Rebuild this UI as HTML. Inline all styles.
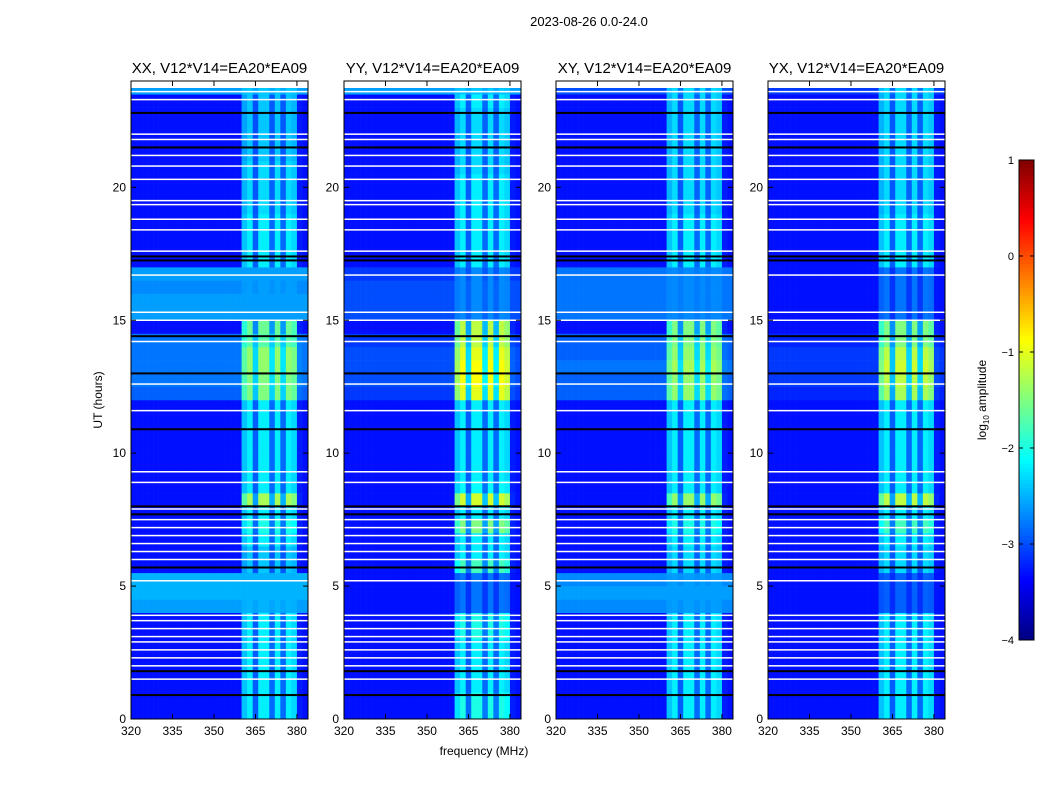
<!DOCTYPE html>
<html><head><meta charset="utf-8">
<style>
body{margin:0;background:#fff;font-family:"Liberation Sans",sans-serif;}
svg text{font-family:"Liberation Sans",sans-serif;}
</style></head>
<body>
<svg id="fig" width="1050" height="800" xmlns="http://www.w3.org/2000/svg">
<rect width="1050" height="800" fill="#fff"/>
<text x="589" y="26" font-size="13" text-anchor="middle">2023-08-26 0.0-24.0</text>
<text x="484" y="755" font-size="12" text-anchor="middle">frequency (MHz)</text>
<text transform="translate(102,400) rotate(-90)" font-size="12" text-anchor="middle">UT (hours)</text>
<g id="panels"></g>
<g id="cbar"></g>
</svg>
<script>
// ---- data ----
const panelTitles = ["XX, V12*V14=EA20*EA09","YY, V12*V14=EA20*EA09","XY, V12*V14=EA20*EA09","YX, V12*V14=EA20*EA09"];
const xTicks = [320,335,350,365,380];
const yTicks = [0,5,10,15,20];
const cbTicks = [1,0,-1,-2,-3,-4];
// column weight of band per 2 MHz channel bin (320..384)
const colWeight = [0,0,0,0,0,0,0,0,0,0,0,0,0,0,0,0,0,0,0,0,0.8,1,0.35,1,1,0.4,1,0.4,1,0.9,0.05,0];
// background level per 0.5h bin (48 bins) per panel
const bgXX = [-3.3,-3.3,-3.3,-3.3,-3.3,-3.3,-3.3,-3.3,-2.6,-2.5,-2.5,-3.3,-3.3,-3.3,-3.3,-3.3,-3.3,-3.3,-3.3,-3.3,-3.3,-3.3,-3.3,-3.3,-2.9,-2.8,-2.8,-2.8,-2.8,-3.3,-2.6,-2.6,-2.7,-2.6,-3.3,-3.3,-3.3,-3.3,-3.3,-3.3,-3.3,-3.3,-3.3,-3.3,-3.3,-3.3,-3.3,-2.6];
const bandXX = [-2.2,-2.2,-2.2,-2.2,-2.2,-2.2,-2.2,-2.2,-2.5,-2.5,-2.5,-2.4,-2.4,-2.2,-2,-2.2,-1.3,-2.2,-2.2,-2.2,-2.2,-2.2,-2.2,-2.2,-1.5,-1.5,-1.4,-1.4,-1.7,-1.6,-2.6,-2.6,-2.6,-2.6,-2.2,-2.2,-2.2,-2.2,-2.3,-2.3,-2.3,-2.3,-2.4,-2.4,-2.4,-2.4,-2.4,-2.4];
const bgYY = [-3.3,-3.3,-3.3,-3.3,-3.3,-3.3,-3.3,-3.3,-3.3,-3.3,-3.3,-3.3,-3.3,-3.3,-3.3,-3.3,-3.3,-3.3,-3.3,-3.3,-3.3,-3.3,-3.3,-3.3,-3.1,-3,-3,-3,-3.1,-3.3,-3,-3,-3,-3.1,-3.3,-3.3,-3.3,-3.3,-3.3,-3.3,-3.3,-3.3,-3.3,-3.3,-3.3,-3.3,-3.3,-2.6];
const bandYY = [-2,-2,-2.2,-2.2,-2.2,-2.2,-2,-2,-2.8,-2.8,-2.8,-1.8,-2.2,-2.2,-1.5,-2.2,-1.1,-2.1,-2.2,-2.2,-2.2,-2.2,-2.2,-2.2,-1,-0.9,-0.9,-1,-1.2,-1.2,-2.7,-2.7,-2.7,-2.7,-2.2,-2.2,-2.2,-2.2,-2.2,-2.2,-2.2,-2.3,-2.3,-2.3,-2.3,-2.3,-2.2,-2.4];
const bgXY = [-3.3,-3.3,-3.3,-3.3,-3.3,-3.3,-3.3,-3.3,-2.7,-2.6,-2.7,-3.3,-3.3,-3.3,-3.3,-3.3,-3.3,-3.3,-3.3,-3.3,-3.3,-3.3,-3.3,-3.3,-2.9,-2.9,-2.8,-2.9,-2.9,-3.3,-2.8,-2.8,-2.8,-2.8,-3.3,-3.3,-3.3,-3.3,-3.3,-3.3,-3.3,-3.3,-3.3,-3.3,-3.3,-3.3,-3.3,-3];
const bandXY = [-2.2,-2.2,-2.2,-2.2,-2.2,-2.2,-2.2,-2.2,-2.6,-2.6,-2.6,-2.3,-2.3,-2.2,-2,-2.2,-1.4,-2.2,-2.2,-2.2,-2.2,-2.2,-2.2,-2.2,-1.4,-1.4,-1.3,-1.4,-1.5,-1.5,-2.7,-2.7,-2.7,-2.7,-2.2,-2.2,-2.2,-2.2,-2.3,-2.3,-2.3,-2.3,-2.3,-2.3,-2.3,-2.3,-2.3,-2.3];
const bgYX = [-3.3,-3.3,-3.3,-3.3,-3.3,-3.3,-3.3,-3.3,-3.3,-3.3,-3.3,-3.3,-3.3,-3.3,-3.3,-3.3,-3.3,-3.3,-3.3,-3.3,-3.3,-3.3,-3.3,-3.3,-3.2,-3.1,-3.1,-3.1,-3.2,-3.3,-3.3,-3.3,-3.3,-3.3,-3.3,-3.3,-3.3,-3.3,-3.3,-3.3,-3.3,-3.3,-3.3,-3.3,-3.3,-3.3,-3.3,-3.1];
const bandYX = [-2.2,-2.2,-2.2,-2.2,-2.2,-2.2,-2.2,-2.2,-2.9,-2.9,-2.9,-2.3,-2.3,-2.2,-1.8,-2.2,-1.2,-2.2,-2.2,-2.2,-2.2,-2.2,-2.2,-2.2,-1.3,-1.2,-1.1,-1.2,-1.5,-1.5,-2.8,-2.8,-2.8,-2.8,-2.2,-2.2,-2.2,-2.2,-2.3,-2.3,-2.3,-2.3,-2.3,-2.3,-2.3,-2.3,-2.3,-2.3];
// flagged (white) and dropout (black) times in hours
const whiteTimes = [1.5,2.0,2.3,2.6,2.9,3.1,3.4,3.7,3.9,5.2,6.0,6.3,6.6,6.9,7.2,7.5,7.9,8.9,9.3,11.6,12.6,14.2,15.0,15.3,16.7,17.6,18.4,18.8,19.35,19.5,20.3,20.8,21.2,21.8,22.0,23.3,23.6];
const blackTimes = [0.9,1.8,5.7,7.7,8.0,10.9,13.0,14.4,17.25,17.4,21.5,22.8];

// ---- layout ----
const panelX = [131,344,556,768];
const pw = 177, pTop = 81, pBot = 719;
const fMin = 320, fMax = 384, tMin = 0, tMax = 24;
const bgs = [bgXX,bgYY,bgXY,bgYX], bands = [bandXX,bandYY,bandXY,bandYX];
const NS = "http://www.w3.org/2000/svg";
function jet(v){
  let t = (v+4)/5; t=Math.max(0,Math.min(1,t));
  const c = x=>Math.round(255*Math.max(0,Math.min(1,1.5-Math.abs(4*t-x))));
  return `rgb(${c(3)},${c(2)},${c(1)})`;
}
function mk(tag,attrs,parent){const e=document.createElementNS(NS,tag);for(const k in attrs)e.setAttribute(k,attrs[k]);parent.appendChild(e);return e;}
const panels = document.getElementById('panels');
const nb = bgXX.length, dt = (tMax-tMin)/nb, df = (fMax-fMin)/colWeight.length;
panelX.forEach((x0,p)=>{
  const xs = f=>x0+(f-fMin)/(fMax-fMin)*pw;
  const ys = t=>pBot-(t-tMin)/(tMax-tMin)*(pBot-pTop);
  const g = mk('g',{},panels);
  
  
  const hm = mk('g',{},g);
  
  
  for(let i=0;i<nb;i++){
    for(let j=0;j<colWeight.length;j++){
      const v = bgs[p][i]+(bands[p][i]-bgs[p][i])*colWeight[j];
      const xa=xs(fMin+j*df), xb=xs(fMin+(j+1)*df), ya=ys(tMin+(i+1)*dt), yb=ys(tMin+i*dt);
      const r=mk('rect',{x:xa.toFixed(2),y:ya.toFixed(2),width:(xb-xa+0.3).toFixed(2),height:(yb-ya+0.3).toFixed(2),fill:jet(v)},hm);
      
      
    }
  }
  whiteTimes.forEach(t=>{const r=mk('rect',{x:x0,y:ys(t)-0.75,width:pw,height:1.5,fill:'#fff'},g);
    
    });
  blackTimes.forEach(t=>{const r=mk('rect',{x:x0,y:ys(t)-1,width:pw,height:2,fill:'#000'},g);
    
    });
  mk('rect',{x:x0,y:pTop,width:pw,height:7,fill:'#fff'},g);
  const fr=mk('rect',{x:x0,y:pTop,width:pw,height:pBot-pTop,fill:'none',stroke:'#000','stroke-width':1},g);
  
  
  const tt=mk('text',{x:x0+pw/2,y:73,'font-size':15,'text-anchor':'middle'},g);tt.textContent=panelTitles[p];
  
  
  xTicks.forEach(f=>{const x=xs(f);
    mk('line',{x1:x,x2:x,y1:pBot,y2:pBot-5,stroke:'#000'},g);
    mk('line',{x1:x,x2:x,y1:pTop,y2:pTop+5,stroke:'#000'},g);
    const l=mk('text',{x:x,y:pBot+16,'font-size':12,'text-anchor':'middle'},g);l.textContent=f;
    
    });
  yTicks.forEach(t=>{const y=ys(t);
    mk('line',{x1:x0,x2:x0+5,y1:y,y2:y,stroke:'#000'},g);
    mk('line',{x1:x0+pw,x2:x0+pw-5,y1:y,y2:y,stroke:'#000'},g);
    const l=mk('text',{x:x0-5,y:y+4,'font-size':12,'text-anchor':'end'},g);l.textContent=t;
    
    });
});
// colorbar
const cb = document.getElementById('cbar');


const cbX=1019, cbW=15, cbTop=160, cbBot=640;
const cys = v=>cbBot-(v+4)/5*(cbBot-cbTop);
for(let i=0;i<120;i++){const v=-4+5*i/120;
  mk('rect',{x:cbX,y:cys(v+5/120)-0.3,width:cbW,height:(cbBot-cbTop)/120+0.6,fill:jet(v+2.5/120)},cb);}
mk('rect',{x:cbX,y:cbTop,width:cbW,height:cbBot-cbTop,fill:'none',stroke:'#000'},cb);
cbTicks.forEach(v=>{const y=cys(v);
  mk('line',{x1:cbX,x2:cbX+4,y1:y,y2:y,stroke:'#000'},cb);
  mk('line',{x1:cbX+cbW,x2:cbX+cbW-4,y1:y,y2:y,stroke:'#000'},cb);
  const l=mk('text',{x:cbX-5,y:y+4,'font-size':11,'text-anchor':'end'},cb);l.textContent=v<0?'\u2212'+(-v):v;
  
  });
const cl=mk('text',{transform:'translate(986,400) rotate(-90)','font-size':12,'text-anchor':'middle'},cb);
cl.innerHTML='log<tspan font-size="8" dy="3">10</tspan><tspan dy="-3"> amplitude</tspan>';


</script>
</body></html>
